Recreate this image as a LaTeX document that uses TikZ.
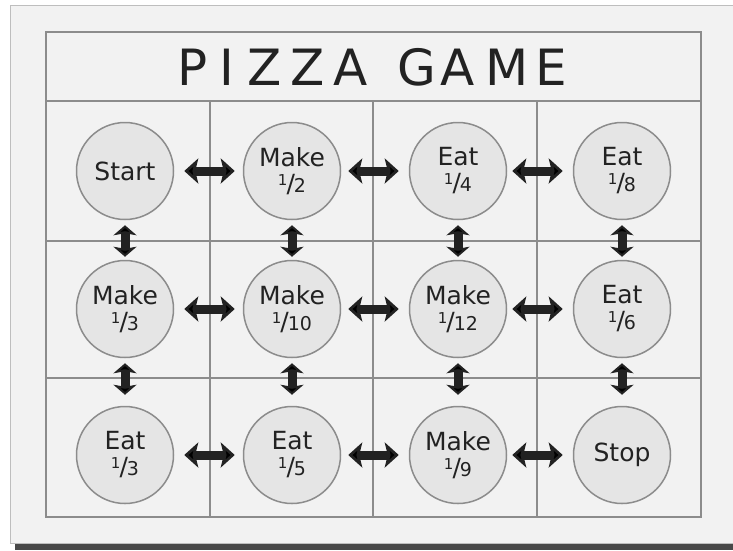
\documentclass[tikz,border=0pt]{standalone}
\usepackage{fontspec}
\setmainfont{DejaVu Sans}
\usepackage{tikz}
\usetikzlibrary{arrows.meta}
\definecolor{panelbg}{RGB}{242,242,242}
\definecolor{gridgray}{RGB}{140,140,140}
\definecolor{discfill}{RGB}{229,229,229}
\definecolor{inkdark}{RGB}{34,34,34}
\definecolor{shadowgray}{RGB}{72,72,72}
\definecolor{rimgray}{RGB}{190,190,190}
\newcommand{\share}[2]{{\fontsize{15}{15}\selectfont\raisebox{7pt}{#1}}\kern-1pt{\fontsize{25}{25}\selectfont/}\kern-1pt{\fontsize{19}{19}\selectfont #2}}

\begin{document}
\begin{tikzpicture}[x=1pt,y=-1pt,
  disc/.style={circle,draw=gridgray,fill=discfill,line width=1.5pt,minimum size=97pt,inner sep=0pt,align=center,text=inkdark,font=\fontsize{25}{26}\selectfont},
  letter/.style={anchor=base,text=inkdark,font=\fontsize{50}{50}\selectfont},
  link/.style={draw=inkdark,line width=9pt,{Stealth[length=14pt,width=25pt,inset=3pt]}-{Stealth[length=14pt,width=25pt,inset=3pt]}},
  vlink/.style={draw=inkdark,line width=9pt,{Stealth[length=10pt,width=23pt,inset=2pt]}-{Stealth[length=10pt,width=23pt,inset=2pt]}}]
  \useasboundingbox (0,0) rectangle (733,550);
  % board and shadow
  \fill[white] (0,0) rectangle (733,550);
  \fill[shadowgray] (15,10) rectangle (740,550);
  \filldraw[fill=panelbg,draw=rimgray,line width=1pt] (10,5) rectangle (740,543);
  % grid
  \draw[gridgray,line width=2pt] (46,32) rectangle (701,517);
  \draw[gridgray,line width=2pt] (46,101) -- (701,101)
                                (46,241) -- (701,241)
                                (46,378) -- (701,378);
  \foreach \x in {210,373,537}
    \draw[gridgray,line width=2pt] (\x,101) -- (\x,517);
  % title
  \foreach \ch/\x [count=\i] in {P/193,I/227,Z/265,Z/308,A/351,G/417,A/458,M/507,E/551}
    \node[letter] (t\i) at (\x,85) {\ch};
  % squares of the game
  \node[disc] (start) at (125,171) {Start};
  \node[disc] (mk2)   at (292,171) {Make\\\share{1}{2}};
  \node[disc] (eat4)  at (458,171) {Eat\\\share{1}{4}};
  \node[disc] (eat8)  at (622,171) {Eat\\\share{1}{8}};
  \node[disc] (mk3)   at (125,309) {Make\\\share{1}{3}};
  \node[disc] (mk10)  at (292,309) {Make\\\share{1}{10}};
  \node[disc] (mk12)  at (458,309) {Make\\\share{1}{12}};
  \node[disc] (eat6)  at (622,309) {Eat\\\share{1}{6}};
  \node[disc] (eat3)  at (125,455) {Eat\\\share{1}{3}};
  \node[disc] (eat5)  at (292,455) {Eat\\\share{1}{5}};
  \node[disc] (mk9)   at (458,455) {Make\\\share{1}{9}};
  \node[disc] (stop)  at (622,455) {Stop};
  % moves
  \path[link] (start) edge[shorten <=10pt,shorten >=8pt] (mk2)
              (mk2)   edge[shorten <=7pt,shorten >=10pt] (eat4)
              (eat4)  edge[shorten <=5pt,shorten >=10pt] (eat8)
              (mk3)   edge[shorten <=10pt,shorten >=8pt] (mk10)
              (mk10)  edge[shorten <=7pt,shorten >=10pt] (mk12)
              (mk12)  edge[shorten <=5pt,shorten >=10pt] (eat6)
              (eat3)  edge[shorten <=10pt,shorten >=8pt] (eat5)
              (eat5)  edge[shorten <=7pt,shorten >=10pt] (mk9)
              (mk9)   edge[shorten <=5pt,shorten >=10pt] (stop);
  \path[vlink] (start) edge[shorten <=5pt,shorten >=3pt] (mk3)
               (mk2)   edge[shorten <=5pt,shorten >=3pt] (mk10)
               (eat4)  edge[shorten <=5pt,shorten >=3pt] (mk12)
               (eat8)  edge[shorten <=5pt,shorten >=3pt] (eat6)
               (mk3)   edge[shorten <=5pt,shorten >=11pt] (eat3)
               (mk10)  edge[shorten <=5pt,shorten >=11pt] (eat5)
               (mk12)  edge[shorten <=5pt,shorten >=11pt] (mk9)
               (eat6)  edge[shorten <=5pt,shorten >=11pt] (stop);
\end{tikzpicture}
\end{document}
